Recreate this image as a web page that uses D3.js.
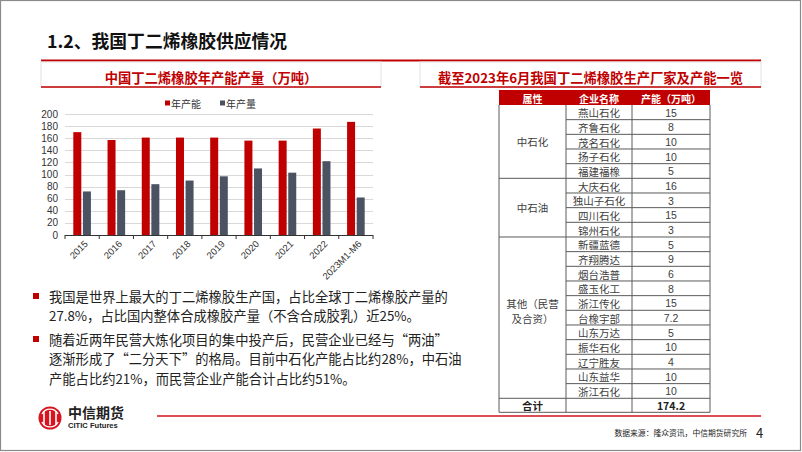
<!DOCTYPE html>
<html><head><meta charset="utf-8">
<script src="https://cdn.jsdelivr.net/npm/d3@7/dist/d3.min.js"></script>
<style>
html,body{margin:0;padding:0;background:#fff;}
svg{display:block;font-family:"Noto Sans CJK SC","Noto Sans",sans-serif;}
.num{font-family:"Liberation Sans",Arial,sans-serif;}
</style></head>
<body>
<svg id="c" width="802" height="452"></svg>
<script>
// ---- data ----
const categories = ["2015","2016","2017","2018","2019","2020","2021","2022","2023M1-M6"];
const capacity = [170,157,161,161,161,156,156,176,187];
const production = [72,74,84,90,97,110,103,122,62];
const seriesNames = ["年产能","年产量"];
const yTicks = [0,20,40,60,80,100,120,140,160,180,200];

const tableHeader = ["属性","企业名称","产能（万吨）"];
const groups = [
  {name:["中石化"], size:5},
  {name:["中石油"], size:4},
  {name:["其他（民营","及合资）"], size:11}
];
const companies = ["燕山石化","齐鲁石化","茂名石化","扬子石化","福建福橡","大庆石化","独山子石化","四川石化","锦州石化","新疆蓝德","齐翔腾达","烟台浩普","盛玉化工","浙江传化","台橡宇部","山东万达","振华石化","辽宁胜友","山东益华","浙江石化"];
const companyCapacity = ["15","8","10","10","5","16","3","15","3","5","9","6","8","15","7.2","5","10","4","10","10"];
const totalRow = ["合计","","174.2"];

const bullets = [
  ["我国是世界上最大的丁二烯橡胶生产国，占比全球丁二烯橡胶产量的","27.8%，占比国内整体合成橡胶产量（不含合成胶乳）近25%。"],
  ["随着近两年民营大炼化项目的集中投产后，民营企业已经与“两油”","逐渐形成了“二分天下”的格局。目前中石化产能占比约28%，中石油","产能占比约21%，而民营企业产能合计占比约51%。"]
];

const RED = "#c00000", GRAY = "#4b5262";
const svg = d3.select("#c");

// slide border
svg.append("rect").attr("x",0.5).attr("y",0.5).attr("width",800).attr("height",450)
  .attr("fill","none").attr("stroke","#8a8a8a").attr("stroke-width",1.2);

// title
svg.append("text").attr("x",47).attr("y",48).attr("font-size",17.8).attr("font-weight","bold")
  .attr("fill","#111").text("1.2、我国丁二烯橡胶供应情况");
svg.append("line").attr("x1",41).attr("x2",761).attr("y1",60.5).attr("y2",60.5)
  .attr("stroke",RED).attr("stroke-width",2);

// section headers
function header(x0,x1,label){
  svg.append("rect").attr("x",x0).attr("y",62).attr("width",x1-x0).attr("height",25)
    .attr("fill","#fff").attr("stroke","#e2e2e2").attr("stroke-width",1);
  svg.append("line").attr("x1",x0).attr("x2",x1).attr("y1",87).attr("y2",87)
    .attr("stroke",RED).attr("stroke-width",1.5);
  svg.append("text").attr("x",(x0+x1)/2).attr("y",77.5).attr("text-anchor","middle")
    .attr("dominant-baseline","central").attr("font-size",13.3).attr("font-weight","bold")
    .attr("fill",RED).text(label);
}
header(41,381,"中国丁二烯橡胶年产能产量（万吨）");
header(420,761,"截至2023年6月我国丁二烯橡胶生产厂家及产能一览");

// ---- bar chart ----
const x = d3.scaleBand().domain(categories).range([65,373]).paddingInner(0).paddingOuter(0);
const y = d3.scaleLinear().domain([0,200]).range([235,114]);
const g = svg.append("g");
g.selectAll("line.grid").data(yTicks.filter(d=>d>0)).enter().append("line")
  .attr("x1",65).attr("x2",373).attr("y1",d=>Math.round(y(d))+0.5).attr("y2",d=>Math.round(y(d))+0.5)
  .attr("stroke","#d9d9d9").attr("stroke-width",1);
g.selectAll("text.yl").data(yTicks).enter().append("text").attr("class","num")
  .attr("x",58).attr("y",d=>y(d)).attr("text-anchor","end").attr("dominant-baseline","central")
  .attr("font-size",10).attr("fill","#333").text(d=>d);
const sub = d3.scaleBand().domain([0,1]).range([0,x.bandwidth()]).paddingInner(0.167).paddingOuter(0.865);
[capacity,production].forEach((arr,si)=>{
  g.selectAll("rect.s"+si).data(arr).enter().append("rect")
    .attr("x",(d,i)=>x(categories[i])+sub(si))
    .attr("width",sub.bandwidth())
    .attr("y",d=>y(d)).attr("height",d=>y(0)-y(d))
    .attr("fill",si===0?RED:GRAY);
});
g.append("line").attr("x1",65).attr("x2",373).attr("y1",235.5).attr("y2",235.5).attr("stroke","#333").attr("stroke-width",1);
const bounds = categories.map(c=>x(c)).concat([373]);
g.selectAll("line.tk").data(bounds).enter().append("line")
  .attr("x1",d=>d).attr("x2",d=>d).attr("y1",235).attr("y2",239).attr("stroke","#333");
g.selectAll("text.xl").data(categories).enter().append("text").attr("class","num")
  .attr("transform",d=>`translate(${x(d)+x.bandwidth()/2+4},${242}) rotate(-45)`)
  .attr("text-anchor","end").attr("dominant-baseline","central")
  .attr("font-size",9.5).attr("fill","#333").text(d=>d);
const leg = [{x:165,c:RED},{x:220,c:GRAY}];
leg.forEach((l,i)=>{
  svg.append("rect").attr("x",l.x).attr("y",100.5).attr("width",5).attr("height",5).attr("fill",l.c);
  svg.append("text").attr("x",l.x+6).attr("y",103).attr("dominant-baseline","central")
    .attr("font-size",10).attr("fill","#333").text(seriesNames[i]);
});

// ---- bullets ----
bullets.forEach((b,bi)=>{
  const y0 = bi===0?296:339;
  svg.append("rect").attr("x",33).attr("y",y0-3).attr("width",6).attr("height",6).attr("fill",RED);
  b.forEach((line,li)=>{
    svg.append("text").attr("x",49).attr("y",y0+li*19.5).attr("dominant-baseline","central")
      .attr("font-size",13.3).attr("fill","#222").text(line);
  });
});

// ---- table ----
const cols = [499,566,632,710];
const hTop = 90, hBot = 105, rowH = (398.3-105)/20;
const FS = 10;
const tg = svg.append("g");
tg.append("rect").attr("x",cols[0]).attr("y",hTop).attr("width",cols[3]-cols[0]).attr("height",hBot-hTop).attr("fill",RED);
tableHeader.forEach((h,i)=>{
  tg.append("text").attr("x",(cols[i]+cols[i+1])/2).attr("y",(hTop+hBot)/2+0.5)
    .attr("text-anchor","middle").attr("dominant-baseline","central")
    .attr("font-size",FS).attr("font-weight","bold").attr("fill","#fff").text(h);
});
const rowY = i => hBot + i*rowH;
const lineC = "#5a5a5a";
companies.forEach((c,i)=>{
  tg.append("text").attr("x",(cols[1]+cols[2])/2).attr("y",rowY(i)+rowH/2+0.5)
    .attr("text-anchor","middle").attr("dominant-baseline","central")
    .attr("font-size",FS+0.5).attr("fill","#404040").text(c);
  tg.append("text").attr("class","num").attr("x",(cols[2]+cols[3])/2).attr("y",rowY(i)+rowH/2+0.5)
    .attr("text-anchor","middle").attr("dominant-baseline","central")
    .attr("font-size",FS+0.5).attr("fill","#404040").text(companyCapacity[i]);
  if(i>0){
    tg.append("line").attr("x1",cols[1]).attr("x2",cols[3]).attr("y1",rowY(i)).attr("y2",rowY(i))
      .attr("stroke",lineC).attr("stroke-width",1);
  }
});
let start = 0;
groups.forEach((gr,gi)=>{
  const top = rowY(start), bot = rowY(start+gr.size);
  if(gi>0) tg.append("line").attr("x1",cols[0]).attr("x2",cols[1]).attr("y1",top).attr("y2",top).attr("stroke",lineC);
  const cy = gr.name.length>1 ? (top+bot)/2-6.5 : (top+bot)/2;
  gr.name.forEach((t,ti)=>{
    tg.append("text").attr("x",(cols[0]+cols[1])/2).attr("y",cy+(ti-(gr.name.length-1)/2)*15)
      .attr("text-anchor","middle").attr("dominant-baseline","central")
      .attr("font-size",FS+0.5).attr("fill","#404040").text(t);
  });
  start += gr.size;
});
const tTop = rowY(20), tBot = tTop+14;
totalRow.forEach((t,i)=>{
  tg.append("text").attr("x",(cols[i]+cols[i+1])/2).attr("y",(tTop+tBot)/2+0.5)
    .attr("text-anchor","middle").attr("dominant-baseline","central")
    .attr("font-size",FS+0.5).attr("font-weight","bold").attr("fill","#222").text(t);
});
tg.append("line").attr("x1",cols[0]).attr("x2",cols[3]).attr("y1",tTop).attr("y2",tTop).attr("stroke",lineC);
cols.forEach(cx=>{
  tg.append("line").attr("x1",cx).attr("x2",cx).attr("y1",hBot).attr("y2",tBot).attr("stroke",lineC);
});
tg.append("line").attr("x1",cols[0]).attr("x2",cols[3]).attr("y1",tBot).attr("y2",tBot).attr("stroke",lineC);

// ---- footer ----
svg.append("line").attr("x1",157).attr("x2",761).attr("y1",416).attr("y2",416)
  .attr("stroke","#d0101f").attr("stroke-width",1.5);
svg.append("text").attr("x",747).attr("y",432).attr("text-anchor","end").attr("dominant-baseline","central")
  .attr("font-size",7.8).attr("fill","#222").text("数据来源：隆众资讯，中信期货研究所");
svg.append("text").attr("x",756).attr("y",432).attr("dominant-baseline","central")
  .attr("font-size",13).attr("fill","#222").text("4");

// logo
const lg = svg.append("g");
lg.append("circle").attr("cx",50).attr("cy",418).attr("r",11.5).attr("fill","#d7141f");
[44,50,56].forEach(xx=>{
  lg.append("line").attr("x1",xx).attr("x2",xx).attr("y1",411).attr("y2",425).attr("stroke","#fff").attr("stroke-width",1.6);
});
lg.append("path").attr("d","M42,414 A9,9 0 0 1 58,414").attr("fill","none").attr("stroke","#fff").attr("stroke-width",1.4);
lg.append("path").attr("d","M42,422 A9,9 0 0 0 58,422").attr("fill","none").attr("stroke","#fff").attr("stroke-width",1.4);
svg.append("text").attr("x",68).attr("y",412).attr("dominant-baseline","central")
  .attr("font-size",14).attr("font-weight","bold").attr("fill","#222").text("中信期货");
svg.append("text").attr("class","num").attr("x",68).attr("y",425.5).attr("dominant-baseline","central")
  .attr("font-size",7.6).attr("font-weight","bold").attr("fill","#222").text("CITIC Futures");
</script>
</body></html>
